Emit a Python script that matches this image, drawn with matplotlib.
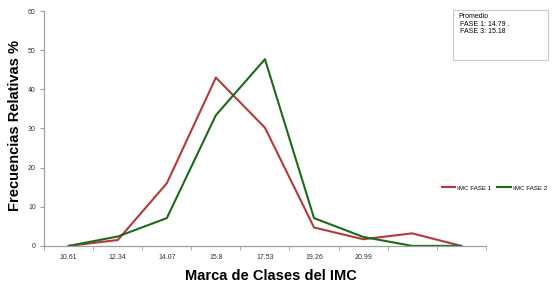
import numpy as np
import matplotlib.pyplot as plt

plt.rcParams['font.family'] = ['Liberation Sans', 'DejaVu Sans']

clases = ['10.61', '12.34', '14.07', '15.8', '17.53', '19.26', '20.99', '', '']
fase1 = [0, 1.5, 16, 43, 30.2, 4.7, 1.7, 3.2, 0]
fase2 = [0, 2.4, 7.1, 33.4, 47.7, 7.1, 2.3, 0, 0]

red = '#B5383A'
green = '#1B6A1B'
grey = '#A0A0A0'

fig = plt.figure(figsize=(5.52, 2.91), dpi=100)
ax = fig.add_axes([0.080, 0.155, 0.800, 0.807])

x = np.arange(len(clases))
ax.plot(x, fase1, color=red, lw=1.5, label='IMC FASE 1')
ax.plot(x, fase2, color=green, lw=1.5, label='IMC FASE 2')

ax.set_xlim(-0.5, len(clases) - 0.5)
ax.set_ylim(0, 60)
ax.set_xticks(x)
ax.set_xticklabels(clases)
ax.set_xticks(np.arange(-0.5, len(clases)), minor=True)
ax.tick_params(axis='x', which='major', length=0, labelsize=5, pad=6, colors='#333333')
ax.tick_params(axis='x', which='minor', length=3, color=grey, direction='out')
ax.tick_params(axis='y', length=3, color=grey, labelsize=5, pad=3, labelcolor='#333333')
ax.set_yticks(np.arange(0, 61, 10))

for s in ['top', 'right']:
    ax.spines[s].set_visible(False)
for s in ['left', 'bottom']:
    ax.spines[s].set_color(grey)
    ax.spines[s].set_linewidth(0.9)

fig.text(0.027, 0.57, 'Frecuencias Relativas %', rotation=90, fontsize=10.5,
         fontweight='bold', ha='center', va='center')
fig.text(0.491, 0.05, 'Marca de Clases del IMC', fontsize=10.5,
         fontweight='bold', ha='center', va='center')

ax.legend(loc='center left', bbox_to_anchor=(0.800, 0.354), bbox_transform=fig.transFigure,
          ncol=2, frameon=False, fontsize=4.5, handlelength=2.2, handletextpad=0.3,
          columnspacing=0.9, borderaxespad=0, borderpad=0)

box = plt.Rectangle((0.821, 0.794), 0.172, 0.172, transform=fig.transFigure,
                    fill=False, ec='#C8C8C8', lw=0.8)
fig.add_artist(box)
fig.text(0.830, 0.955, 'Promedio\n FASE 1: 14.79 .\n FASE 3: 15.18', fontsize=5,
         va='top', ha='left', linespacing=1.1)

fig.savefig('out.png', dpi=100)
